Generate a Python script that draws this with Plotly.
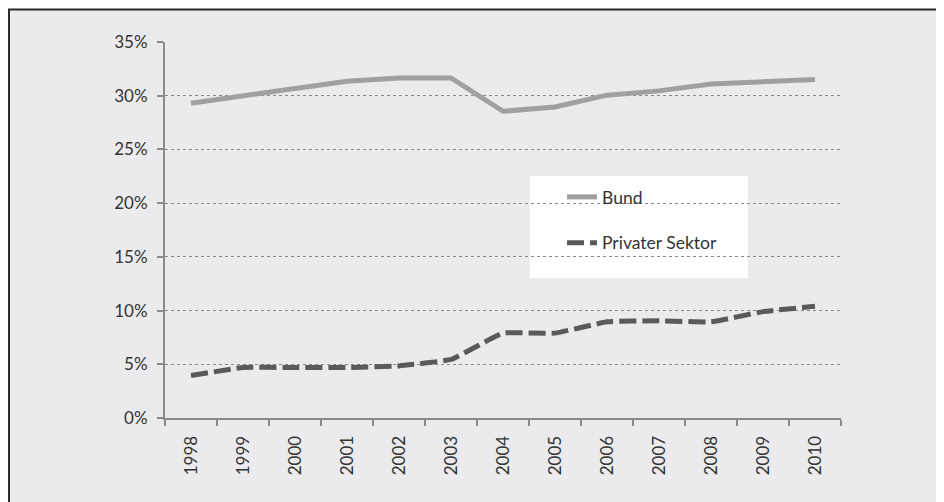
import plotly.graph_objects as go

years = ["1998", "1999", "2000", "2001", "2002", "2003", "2004",
         "2005", "2006", "2007", "2008", "2009", "2010"]
bund = [29.3, 29.95, 30.65, 31.35, 31.65, 31.65, 28.55,
        28.95, 30.05, 30.45, 31.1, 31.25, 31.5]
privat = [3.95, 4.7, 4.7, 4.7, 4.85, 5.45, 7.9,
          7.9, 8.95, 9.05, 8.95, 9.9, 10.4]
y_ticks = [0, 5, 10, 15, 20, 25, 30, 35]
y_labels = ["0%", "5%", "10%", "15%", "20%", "25%", "30%", "35%"]

FONT = "Lato, 'Noto Sans', sans-serif"
TEXT = "#333333"
AXIS = "#8a8a8a"

# plot-area geometry in figure pixels (style only)
W, H = 944, 502
L, T, PW, PH = 157, 34, 676, 376
R, B = W - L - PW, H - T - PH


def px_x(x):
    return (x - L) / PW


def px_y(y):
    return (T + PH - y) / PH


fig = go.Figure()
fig.add_trace(go.Scatter(
    x=years, y=bund, name="Bund", mode="lines",
    line=dict(color="#a0a0a3", width=5),
    legendgroup="a",
))
fig.add_trace(go.Scatter(
    x=years, y=privat, name="Privater Sektor", mode="lines",
    line=dict(color="#5a5a5a", width=5, dash="17px,6px", shape="spline", smoothing=0.3),
    legendgroup="b",
))

shapes = [
    # grey frame with dark top/left border
    dict(type="rect", xref="paper", yref="paper",
         x0=px_x(1), x1=px_x(W + 20), y0=px_y(H + 20), y1=px_y(1.5),
         fillcolor="#ebebed", line=dict(color="#2a2a2a", width=2), layer="below"),
    # white gap in gridlines behind legend
    dict(type="rect", xref="paper", yref="paper",
         x0=px_x(522), x1=px_x(740), y0=px_y(270), y1=px_y(168),
         fillcolor="white", line=dict(width=0), layer="between"),
]

fig.update_layout(
    width=W, height=H,
    margin=dict(l=L, r=R, t=T, b=B),
    paper_bgcolor="white",
    plot_bgcolor="white",
    font=dict(family=FONT, size=17, color=TEXT),
    shapes=shapes,
    showlegend=True,
    legend=dict(
        x=px_x(554), y=px_y(171), xanchor="left", yanchor="top",
        bgcolor="rgba(0,0,0,0)", borderwidth=0,
        font=dict(family=FONT, size=17.5, color=TEXT),
        traceorder="grouped", tracegroupgap=20,
    ),
    xaxis=dict(
        type="category", range=[-0.5, 12.5],
        tickvals=years, ticktext=years,
        tickangle=-90, tickfont=dict(size=17, color=TEXT),
        showgrid=False, showline=True, linecolor=AXIS, linewidth=2,
        ticks="outside", ticklen=6, tickwidth=2, tickcolor=AXIS,
        tickson="boundaries", zeroline=False, fixedrange=True,
        ticklabelstandoff=9,
    ),
    yaxis=dict(
        range=[0, 35], tickvals=y_ticks, ticktext=y_labels,
        tickfont=dict(size=17, color=TEXT),
        showgrid=True, gridcolor="#8a8a8a", griddash="dot", gridwidth=1,
        showline=True, linecolor=AXIS, linewidth=2,
        ticks="outside", ticklen=6, tickwidth=2, tickcolor=AXIS,
        zeroline=False, fixedrange=True, ticklabelstandoff=6,
    ),
)

fig.write_html("out.html")
